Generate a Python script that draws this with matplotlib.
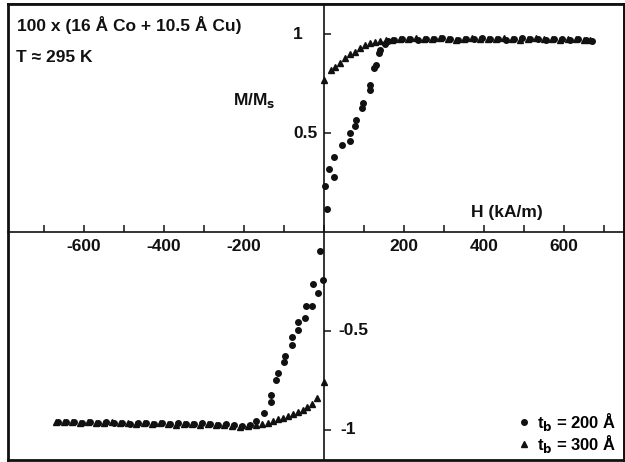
import matplotlib
matplotlib.use("Agg")
import matplotlib.pyplot as plt
from matplotlib.lines import Line2D
from matplotlib.ticker import MultipleLocator, FixedLocator, NullFormatter

plt.rcParams['font.family'] = ['Liberation Sans', 'DejaVu Sans']

# Magnetisation loop, t_b = 200 Å (circles)
h_200 = [2, 8, 13, 26, 26, 45, 64, 64, 78, 81, 95, 98, 114, 114, 126, 129, 137, 141, 152, 160,
         175, 195, 215, 235, 255, 275, 295, 315, 335, 355, 375, 395, 415, 435, 455, 475,
         495, 515, 535, 555, 575, 595, 615, 635, 655, 670,
         -2, -9, -28, -14, -45, -31, -48, -65, -66, -81, -81, -98, -101, -115, -119, -132, -132,
         -150, -169, -185, -205, -225, -245, -265, -285, -305, -325, -345, -365, -385, -405,
         -425, -445, -465, -485, -505, -525, -545, -565, -585, -605, -625, -645, -665]
m_200 = [0.23, 0.115, 0.32, 0.28, 0.38, 0.44, 0.46, 0.50, 0.535, 0.566, 0.625, 0.65, 0.717, 0.742,
         0.827, 0.843, 0.903, 0.92, 0.95, 0.965,
         0.97, 0.975, 0.975, 0.97, 0.975, 0.975, 0.98, 0.975, 0.97, 0.975, 0.975, 0.98, 0.975,
         0.975, 0.97, 0.975, 0.98, 0.975, 0.975, 0.97, 0.975, 0.975, 0.97, 0.975, 0.97, 0.965,
         -0.24, -0.096, -0.263, -0.307, -0.374, -0.374, -0.436, -0.453, -0.495, -0.532, -0.571,
         -0.626, -0.655, -0.714, -0.747, -0.823, -0.857, -0.913, -0.955,
         -0.975, -0.98, -0.975, -0.97, -0.975, -0.97, -0.965, -0.97, -0.97, -0.965, -0.97,
         -0.965, -0.97, -0.965, -0.965, -0.97, -0.965, -0.965, -0.96, -0.965, -0.96, -0.965,
         -0.96, -0.96, -0.96]

# Magnetisation loop, t_b = 300 Å (triangles)
h_300 = [0, 17, 28, 40, 53, 66, 78, 91, 103, 116, 128, 141, 155,
         170, 190, 210, 230, 250, 270, 290, 310, 330, 350, 370, 390, 410, 430, 450, 470,
         490, 510, 530, 550, 570, 590, 610, 630, 650, 665,
         1, -18, -31, -42, -52, -65, -77, -90, -103, -115, -128, -140, -155,
         -170, -190, -210, -230, -250, -270, -290, -310, -330, -350, -370, -390, -410,
         -430, -450, -470, -490, -510, -530, -550, -570, -590, -610, -630, -650, -670]
m_300 = [0.77, 0.82, 0.835, 0.855, 0.877, 0.90, 0.91, 0.928, 0.944, 0.953, 0.96, 0.966, 0.97,
         0.972, 0.975, 0.975, 0.978, 0.975, 0.975, 0.978, 0.975, 0.972, 0.975, 0.978, 0.975,
         0.975, 0.975, 0.978, 0.975, 0.972, 0.975, 0.978, 0.975, 0.975, 0.972, 0.975, 0.975,
         0.972, 0.97,
         -0.756, -0.84, -0.869, -0.886, -0.90, -0.907, -0.919, -0.929, -0.938, -0.946, -0.953,
         -0.963, -0.97,
         -0.975, -0.98, -0.985, -0.98, -0.975, -0.975, -0.97, -0.975, -0.97, -0.97, -0.975,
         -0.97, -0.965, -0.97, -0.965, -0.97, -0.965, -0.965, -0.96, -0.965, -0.965, -0.96,
         -0.965, -0.96, -0.96, -0.96]

x_tick_labels = [-600, -400, -200, 200, 400, 600]
y_tick_upper = [1, 0.5]
y_tick_lower = [-0.5, -1]

W, H = 625, 462
fig = plt.figure(figsize=(W / 100, H / 100), dpi=100)

def fx(px):
    return px / W

def fy(py):
    return 1 - py / H

ax = fig.add_axes([fx(8), fy(460), fx(624) - fx(8), fy(4) - fy(460)])
ax.set_xlim(-790, 750)
ax.set_ylim(-1.152, 1.152)

# Axes crossing at the origin, with a full frame around the plot
ax.spines['left'].set_position(('data', 0))
ax.spines['bottom'].set_position(('data', 0))
for s in ax.spines.values():
    s.set_linewidth(1.2)
    s.set_color('#111111')
for xe in (0, 1):
    ax.plot([xe, xe], [0, 1], transform=ax.transAxes, color='#111111', lw=2.0, clip_on=False)
for ye in (0, 1):
    ax.plot([0, 1], [ye, ye], transform=ax.transAxes, color='#111111', lw=2.0, clip_on=False)

ax.xaxis.set_major_locator(MultipleLocator(100))
ax.xaxis.set_major_formatter(NullFormatter())
ax.yaxis.set_major_locator(FixedLocator(y_tick_upper + y_tick_lower))
ax.yaxis.set_major_formatter(NullFormatter())
ax.tick_params(axis='both', direction='in', length=5, width=1.1, color='#111111')
ax.tick_params(top=False, right=False)

FS = 12.5
txt = dict(fontsize=FS, color='#111111', fontweight='bold')
for v in x_tick_labels:
    ax.text(v, -0.035, f"{v}", ha='center', va='top', **txt)
ax.text(-65, y_tick_upper[0], f"{y_tick_upper[0]:g}", ha='center', va='center', **txt)
ax.text(-15, y_tick_upper[1], f"{y_tick_upper[1]:g}", ha='right', va='center', **txt)
ax.text(35, y_tick_lower[0], f"{y_tick_lower[0]:g}", ha='left', va='center', **txt)
ax.text(40, y_tick_lower[1], f"{y_tick_lower[1]:g}", ha='left', va='center', **txt)

ax.plot(h_200, m_200, linestyle='none', marker='o', ms=4.0, color='#111111', mec='#111111')
ax.plot(h_300, m_300, linestyle='none', marker='^', ms=4.4, color='#111111', mec='#111111')

fig.text(fx(17), fy(25), "100 x (16 Å Co + 10.5 Å Cu)", ha='left', va='center', **txt)
fig.text(fx(16), fy(57), "T ≈ 295 K", ha='left', va='center', **txt)
fig.text(fx(233), fy(101), r"M/M$_\mathbf{s}$", ha='left', va='center', **txt)
fig.text(fx(471), fy(212), "H (kA/m)", ha='left', va='center', **txt)

handles = [
    Line2D([], [], linestyle='none', marker='o', ms=4.0, color='#111111'),
    Line2D([], [], linestyle='none', marker='^', ms=4.4, color='#111111'),
]
labels = [r"t$_\mathbf{b}$ = 200 Å", r"t$_\mathbf{b}$ = 300 Å"]
leg = ax.legend(handles, labels, loc='lower right', bbox_to_anchor=(fx(626), fy(465)),
                bbox_transform=fig.transFigure, frameon=False, handlelength=0.7,
                handletextpad=0.4, labelspacing=0.0, borderpad=0.1,
                prop={'size': 12, 'weight': 'bold'})

fig.savefig("out.png", dpi=100)
